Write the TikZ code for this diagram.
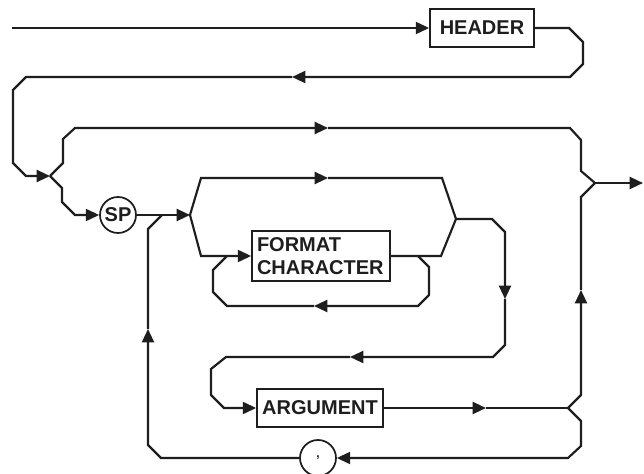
\documentclass[tikz,border=0pt]{standalone}
\usepackage{fontspec}
\setmainfont{Liberation Sans}
\usetikzlibrary{arrows.meta}
\definecolor{ink}{RGB}{30,30,30}
\begin{document}
\begin{tikzpicture}[x=0.75pt,y=-0.75pt,
  line/.style={draw=ink,line width=1.6pt,line join=miter},
  tip/.style={line,-{Triangle[length=10pt,width=9pt]}},
  box/.style={draw=ink,line width=1.3pt,font=\bfseries\fontsize{15}{17.5}\selectfont,text=ink,inner sep=0pt},
  term/.style={circle,draw=ink,line width=1.3pt,inner sep=0pt,minimum size=27pt,text=ink}]
\useasboundingbox (0,0) rectangle (644,474);
\fill[white] (0,0) rectangle (644,474);

\node[box,minimum width=78pt,minimum height=28.5pt] (header) at (482,28) {HEADER};
\node[box,minimum width=103.5pt,minimum height=37.5pt,align=left,text width=96pt] (format) at (321,256) {FORMAT\\CHARACTER};
\node[box,minimum width=94.5pt,minimum height=28.5pt] (argument) at (320,408) {ARGUMENT};
\node[term,font=\bfseries\fontsize{15}{17}\selectfont] (sp) at (118,215) {SP};
\node[term,font=\bfseries\fontsize{9}{10}\selectfont] (comma) at (318,458) {,};

\coordinate (start) at (12,28);
\coordinate (j1) at (50,176);
\coordinate (j2) at (190,215);
\coordinate (j3) at (595,183);
\coordinate (j4) at (456,219);
\coordinate (j5) at (568,408);
\coordinate (exit) at (643,183);
\coordinate (m1) at (292,77);
\coordinate (m2) at (328,128);
\coordinate (m3) at (328,178);
\coordinate (m4) at (314,306);
\coordinate (m5) at (505,299);
\coordinate (m6) at (350,357);
\coordinate (m7) at (486,408);
\coordinate (m8) at (581,290);
\coordinate (m9) at (148,329);
\coordinate (merge) at (162,215);
\coordinate (floop) at (418,256);
\coordinate (fjoin) at (227,256);

\draw[tip] (start) -- (header.west);
\draw[tip] (header.east) -- (569,28) -- (583,42) -- (583,64) -- (570,77) -- (m1);
\draw[tip] (m1) -- (26,77) -- (13,90) -- (13,163) -- (26,176) -- (j1);
\draw[tip] (j1) -- (63,163) -- (63,139) -- (75,128) -- (m2);
\draw[line] (m2) -- (570,128) -- (581,140) -- (581,171) -- (j3);
\draw[tip] (j3) -- (exit);
\draw[tip] (j1) -- (62,188) -- (62,202) -- (75,215) -- (sp.west);
\draw[tip] (sp.east) -- (j2);
\draw[tip] (j2) -- (201,178) -- (m3);
\draw[line] (m3) -- (442,178) -- (j4);
\draw[tip] (j2) -- (201,256) -- (format.west);
\draw[line] (format.east) -- (441,256) -- (j4);
\draw[tip] (floop) -- (429,267) -- (429,295) -- (418,306) -- (m4);
\draw[line] (m4) -- (227,306) -- (213,292) -- (213,270) -- (fjoin);
\draw[tip] (j4) -- (492,219) -- (505,232) -- (m5);
\draw[tip] (m5) -- (505,345) -- (493,357) -- (m6);
\draw[tip] (m6) -- (226,357) -- (211,369) -- (211,395) -- (224,408) -- (argument.west);
\draw[tip] (argument.east) -- (m7);
\draw[line] (m7) -- (j5);
\draw[tip] (j5) -- (581,395) -- (m8);
\draw[line] (m8) -- (581,197) -- (j3);
\draw[tip] (j5) -- (581,421) -- (581,446) -- (568,458) -- (comma.east);
\draw[tip] (comma.west) -- (161,458) -- (148,445) -- (m9);
\draw[line] (m9) -- (148,229) -- (merge);
\end{tikzpicture}
\end{document}
